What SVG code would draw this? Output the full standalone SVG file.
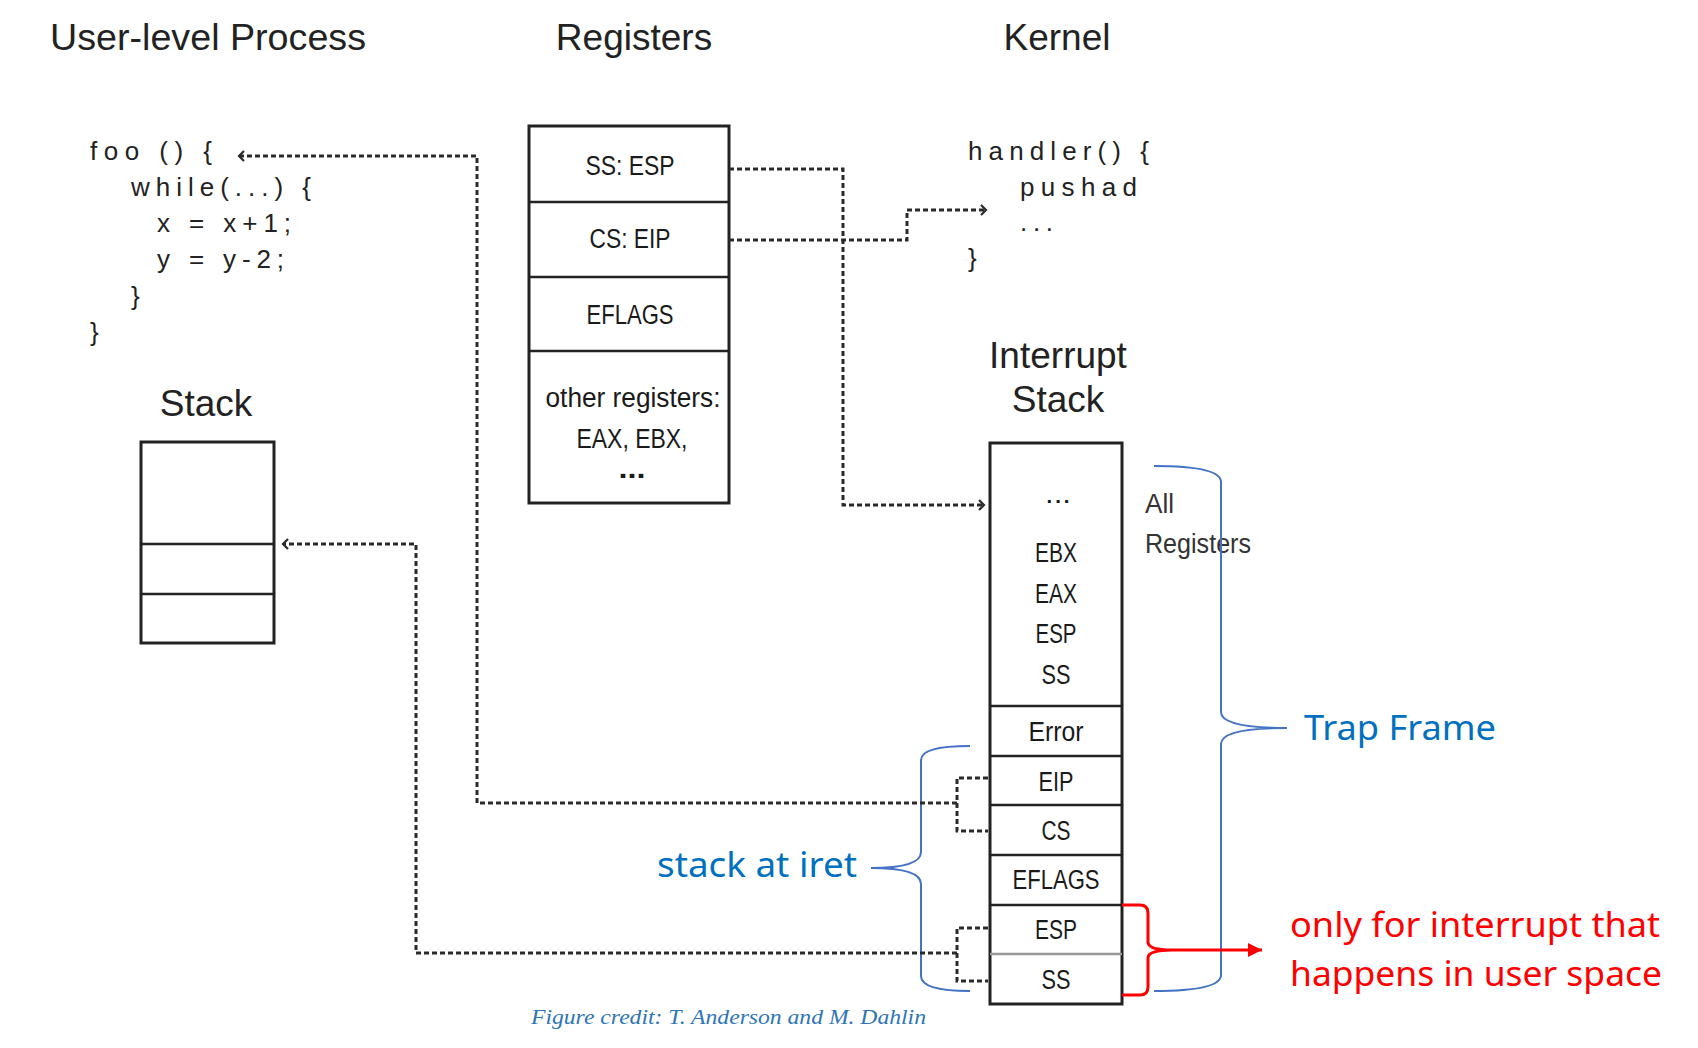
<svg xmlns="http://www.w3.org/2000/svg" width="1698" height="1048" viewBox="0 0 1698 1048">
<style>
.title{font-family:"Liberation Sans",Arial,sans-serif;font-size:37px;fill:#222}
.code{font-family:"Liberation Sans",Arial,sans-serif;font-size:26px;fill:#222}
.cell{font-family:"Liberation Sans Narrow","Liberation Sans",Arial,sans-serif;font-size:27px;fill:#1a1a1a;text-anchor:middle}
.side{font-family:"Liberation Sans Narrow","Liberation Sans",Arial,sans-serif;font-size:27px;fill:#333;text-anchor:start}
.box{fill:#fff;stroke:#222;stroke-width:3}
.div{stroke:#222;stroke-width:2.5}
.conn{fill:none;stroke:#2a2a2a;stroke-width:3;stroke-dasharray:5 3}
.blue{font-family:"Noto Sans","Open Sans",sans-serif;font-size:34px;fill:#0070C0}
.red{font-family:"Noto Sans","Open Sans",sans-serif;font-size:34px;fill:#FF0000}
.brace{fill:none;stroke:#4472C4;stroke-width:2}
</style>
<defs>
<marker id="chev" markerUnits="userSpaceOnUse" markerWidth="10" markerHeight="12" refX="6" refY="6" orient="auto">
<path d="M1,1 L6,6 L1,11" fill="none" stroke="#2a2a2a" stroke-width="2.2"/>
</marker>
<marker id="redarrow" markerUnits="userSpaceOnUse" markerWidth="16" markerHeight="16" refX="14" refY="8" orient="auto">
<path d="M0,1 L14,8 L0,15 Z" fill="#FF0000"/>
</marker>
</defs>
<rect width="1698" height="1048" fill="#fff"/>

<g id="title-user"><text class="title" x="50" y="50" textLength="316" lengthAdjust="spacingAndGlyphs">User-level Process</text></g>
<g id="title-registers"><text class="title" x="634" y="50" text-anchor="middle">Registers</text></g>
<g id="title-kernel"><text class="title" x="1057" y="50" text-anchor="middle">Kernel</text></g>

<g id="code-foo" class="code">
<text x="90" y="160" textLength="122">foo () {</text>
<text x="131" y="196" textLength="180">while(...) {</text>
<text x="157" y="232" textLength="134">x = x+1;</text>
<text x="157" y="268" textLength="127">y = y-2;</text>
<text x="131" y="305">}</text>
<text x="90" y="341">}</text>
</g>

<g id="code-handler" class="code">
<text x="968" y="160" textLength="181">handler() {</text>
<text x="1020" y="196" textLength="117">pushad</text>
<text x="1020" y="231" textLength="33">...</text>
<text x="968" y="267">}</text>
</g>

<g id="title-stack"><text class="title" x="206" y="416" text-anchor="middle">Stack</text></g>
<g id="user-stack">
<rect class="box" x="141" y="442" width="133" height="201"/>
<line class="div" x1="141" y1="544" x2="274" y2="544"/>
<line class="div" x1="141" y1="594" x2="274" y2="594"/>
</g>

<g id="registers">
<rect class="box" x="529" y="126" width="200" height="377"/>
<line class="div" x1="529" y1="202" x2="729" y2="202"/>
<line class="div" x1="529" y1="277" x2="729" y2="277"/>
<line class="div" x1="529" y1="351" x2="729" y2="351"/>
<text class="cell" x="630" y="175" textLength="89" lengthAdjust="spacingAndGlyphs">SS: ESP</text>
<text class="cell" x="630" y="248" textLength="81" lengthAdjust="spacingAndGlyphs">CS: EIP</text>
<text class="cell" x="630" y="324" textLength="87" lengthAdjust="spacingAndGlyphs">EFLAGS</text>
<text class="cell" x="633" y="407" textLength="175" lengthAdjust="spacingAndGlyphs">other registers:</text>
<text class="cell" x="632" y="448" textLength="111" lengthAdjust="spacingAndGlyphs">EAX, EBX,</text>
<text class="cell" x="632" y="478" font-weight="bold" textLength="27" lengthAdjust="spacingAndGlyphs">...</text>
</g>

<g id="title-interrupt-stack">
<text class="title" x="1058" y="368" text-anchor="middle">Interrupt</text>
<text class="title" x="1058" y="412" text-anchor="middle">Stack</text>
</g>
<g id="interrupt-stack">
<rect class="box" x="990" y="443" width="132" height="561"/>
<line class="div" x1="990" y1="706" x2="1122" y2="706"/>
<line class="div" x1="990" y1="756" x2="1122" y2="756"/>
<line class="div" x1="990" y1="805" x2="1122" y2="805"/>
<line class="div" x1="990" y1="855" x2="1122" y2="855"/>
<line class="div" x1="990" y1="905" x2="1122" y2="905"/>
<line x1="990" y1="954" x2="1122" y2="954" stroke="#999" stroke-width="2.5"/>
<text class="cell" x="1058" y="503" textLength="26" lengthAdjust="spacingAndGlyphs">...</text>
<text class="cell" x="1056" y="562" textLength="42" lengthAdjust="spacingAndGlyphs">EBX</text>
<text class="cell" x="1056" y="603" textLength="42" lengthAdjust="spacingAndGlyphs">EAX</text>
<text class="cell" x="1056" y="643" textLength="41" lengthAdjust="spacingAndGlyphs">ESP</text>
<text class="cell" x="1056" y="684" textLength="29" lengthAdjust="spacingAndGlyphs">SS</text>
<text class="cell" x="1056" y="741" textLength="55" lengthAdjust="spacingAndGlyphs">Error</text>
<text class="cell" x="1056" y="791" textLength="35" lengthAdjust="spacingAndGlyphs">EIP</text>
<text class="cell" x="1056" y="840" textLength="29" lengthAdjust="spacingAndGlyphs">CS</text>
<text class="cell" x="1056" y="889" textLength="87" lengthAdjust="spacingAndGlyphs">EFLAGS</text>
<text class="cell" x="1056" y="939" textLength="42" lengthAdjust="spacingAndGlyphs">ESP</text>
<text class="cell" x="1056" y="989" textLength="29" lengthAdjust="spacingAndGlyphs">SS</text>
</g>

<g id="label-all-registers">
<text class="side" x="1145" y="513" textLength="29" lengthAdjust="spacingAndGlyphs">All</text>
<text class="side" x="1145" y="553" textLength="106" lengthAdjust="spacingAndGlyphs">Registers</text>
</g>

<g id="brace-trap-frame">
<path class="brace" d="M1154,466 Q1221,466 1221,482 L1221,712 Q1221,728 1287,728 Q1221,728 1221,744 L1221,975 Q1221,991 1154,991"/>
</g>
<g id="label-trap-frame"><text class="blue" x="1304" y="740" textLength="192" lengthAdjust="spacingAndGlyphs">Trap Frame</text></g>

<g id="brace-iret">
<path class="brace" d="M970,746 Q921,746 921,760 L921,852 Q921,868 871,868 Q921,868 921,884 L921,976 Q921,991 970,991"/>
</g>
<g id="label-iret"><text class="blue" x="657" y="877" textLength="200" lengthAdjust="spacingAndGlyphs">stack at iret</text></g>

<g id="bracket-user-space">
<path d="M1122,905 L1140,905 Q1148,905 1148,913 L1148,942 Q1148,950 1172,950 Q1148,950 1148,958 L1148,987 Q1148,995 1140,995 L1122,995" fill="none" stroke="#FF0000" stroke-width="3"/>
<line x1="1172" y1="950" x2="1262" y2="950" stroke="#FF0000" stroke-width="3" marker-end="url(#redarrow)"/>
</g>
<g id="label-user-space">
<text class="red" x="1290" y="937" textLength="370" lengthAdjust="spacingAndGlyphs">only for interrupt that</text>
<text class="red" x="1290" y="986" textLength="372" lengthAdjust="spacingAndGlyphs">happens in user space</text>
</g>

<g id="connectors">
<path class="conn" d="M729,169 L843,169 L843,505 L984,505" marker-end="url(#chev)"/>
<path class="conn" d="M729,240 L907,240 L907,210 L986,210" marker-end="url(#chev)"/>
<path class="conn" d="M988,778 L957,778 L957,831 L988,831"/>
<path class="conn" d="M957,803 L477,803 L477,156 L239,156" marker-end="url(#chev)"/>
<path class="conn" d="M988,928 L957,928 L957,981 L988,981"/>
<path class="conn" d="M957,953 L416,953 L416,544 L283,544" marker-end="url(#chev)"/>
</g>

<g id="credit"><text x="531" y="1024" font-family="'Liberation Serif','Times New Roman',serif" font-style="italic" font-size="22" fill="#2E75B6" textLength="395" lengthAdjust="spacingAndGlyphs">Figure credit: T. Anderson and M. Dahlin</text></g>
</svg>
